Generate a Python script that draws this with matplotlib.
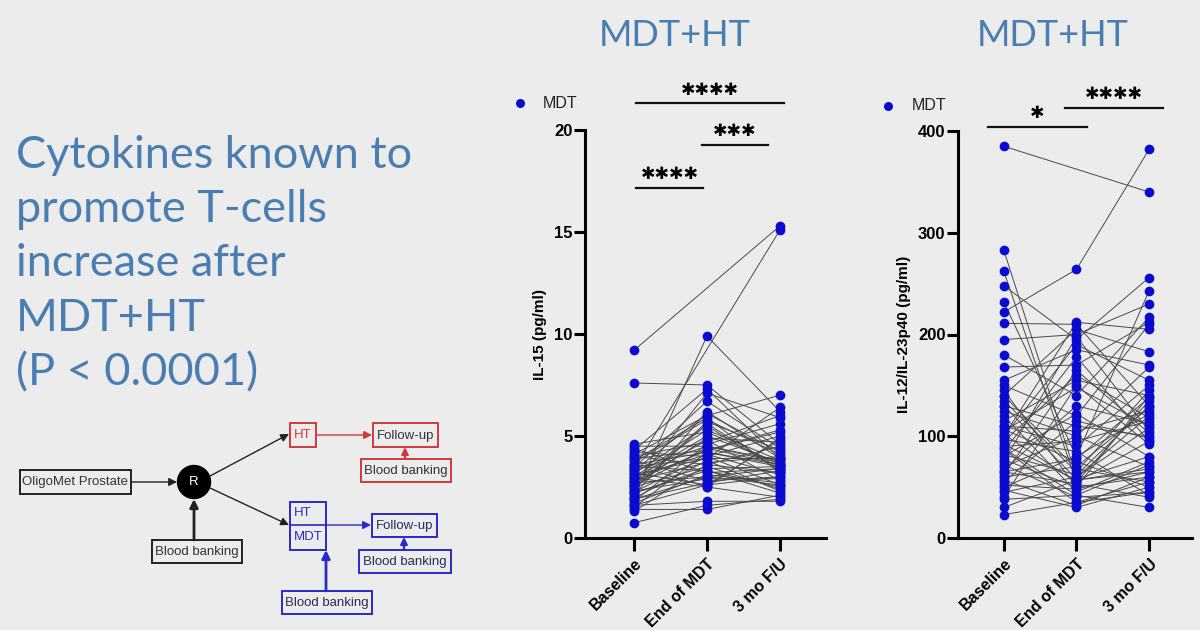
import numpy as np
import matplotlib
matplotlib.use("Agg")
import matplotlib.pyplot as plt
from matplotlib.patches import Rectangle, Circle, FancyArrowPatch

# ---- data -------------------------------------------------------------
timepoints = ["Baseline", "End of MDT", "3 mo F/U"]
nan = np.nan

il15_base = [9.2, 7.6, 0.75, 3.4, 2.0, 4.6, 4.4, 4.3, 4.2, 4.1, 4.0, 3.9, 3.8, 3.7,
             3.6, 3.5, 3.45, 3.3, 3.2, 3.15, 3.1, 3.0, 2.95, 2.9, 2.8, 2.75, 2.7, 2.6,
             2.55, 2.5, 2.4, 2.3, 2.25, 2.2, 2.1, 1.95, 1.9, 1.8, 1.7, 1.6, 1.5, 1.4,
             1.3, 3.0, 2.6, 3.8, 4.0, 2.2, 1.6, 3.3, 2.8, 3.5, 2.4, 1.9, 4.5, 3.6]
il15_end = [nan, 7.5, 1.6, nan, 9.9, 5.2, 3.2, 7.3, 4.0, 6.0, 3.6, 4.3, 2.8, 5.8,
            4.2, 3.3, 6.7, 4.5, 2.6, 5.5, 3.9, 4.1, 2.5, 5.0, 3.7, 4.8, 3.0, 7.1,
            4.4, 3.5, 5.7, 2.9, 4.0, 3.4, 6.2, 3.8, 2.7, 4.6, 3.1, 1.8, 4.2, 1.4,
            3.6, 5.3, 4.9, 5.9, 4.7, 3.3, 2.6, 6.1, 4.3, 3.9, 5.6, 3.0, 4.5, 2.5]
il15_fu = [15.3, 4.6, 1.9, 15.1, 6.2, 3.6, 3.4, 3.9, 2.6, 7.0, 3.2, 5.3, 3.0, 4.1,
           3.5, 2.2, 4.4, 3.8, 4.8, 3.3, 6.4, 3.1, 2.0, 3.7, 4.0, 2.8, 3.4, 5.9,
           3.6, 2.4, 4.3, 2.9, 5.0, 3.5, 3.9, 2.3, 3.3, 5.6, 2.7, 1.8, 3.6, 2.1,
           4.5, 3.8, 4.7, 3.2, 6.0, 2.5, 3.0, 4.2, 5.2, 3.9, 3.4, 2.6, 3.7, 4.9]

il12_base = [385, 222, 283, 262, 248, 232, 211, 195, 180, 168, 155, 150, 145, 140,
             135, 130, 125, 120, 115, 110, 107, 105, 102, 100, 97, 95, 92, 90, 87,
             85, 82, 80, 77, 75, 72, 70, 67, 65, 62, 60, 57, 55, 52, 50, 47, 45,
             40, 38, 30, 23, 110, 100, 140, 65, 130, 88]
il12_end = [nan, 264, 60, 55, 195, 80, 210, 200, 140, 170, 185, 120, 50, 205,
            65, 110, 100, 45, 155, 105, 75, 148, 55, 190, 85, 160, 57, 95, 35,
            178, 62, 122, 50, 198, 40, 100, 130, 53, 165, 70, 32, 115, 48, 80, 30,
            60, 150, 42, 57, 35, 90, 212, 68, 78, 58, 42]
il12_fu = [340, 382, 120, 95, 256, 243, 130, 230, 217, 212, 170, 210, 60, 183,
           145, 100, 168, 75, 140, 125, 50, 110, 135, 155, 42, 118, 65, 115, 55,
           95, 130, 80, 140, 105, 45, 70, 112, 40, 103, 128, 60, 98, 65, 122, 50,
           108, 92, 30, 68, 45, 150, 205, 55, 138, 80, 72]

# ---- style ------------------------------------------------------------
BG = "#ececec"
SLIDE_BLUE = "#4a7eb2"
DOT = "#0b0bd0"
RED = "#d03a3a"
BLUE = "#2a2ac8"
ARIAL = "Liberation Sans"

fig = plt.figure(figsize=(12, 6.3), dpi=100, facecolor=BG)

# pixel-space overlay for the slide text and study diagram
bg = fig.add_axes([0, 0, 1, 1])
bg.set_xlim(0, 1200)
bg.set_ylim(630, 0)
bg.axis("off")

lines = ["Cytokines known to", "promote T-cells", "increase after", "MDT+HT", "(P < 0.0001)"]
for i, line in enumerate(lines):
    bg.text(16, 155 + i * 54.5, line, fontsize=32.5, family="Lato", color=SLIDE_BLUE,
            va="center", ha="left")

bg.text(675, 36, "MDT+HT", fontsize=26, family="Lato", color=SLIDE_BLUE, ha="center", va="center")
bg.text(1053, 36, "MDT+HT", fontsize=26, family="Lato", color=SLIDE_BLUE, ha="center", va="center")


def box(x0, y0, x1, y1, edge, label=None, tcolor="#333333"):
    bg.add_patch(Rectangle((x0, y0), x1 - x0, y1 - y0, fill=False, edgecolor=edge, linewidth=1.4))
    if label:
        bg.text((x0 + x1) / 2, (y0 + y1) / 2 + 0.5, label, fontsize=9.5, family=ARIAL,
                color=tcolor, ha="center", va="center")


def arrow(p0, p1, color, lw=1.0, ms=12):
    bg.add_patch(FancyArrowPatch(p0, p1, arrowstyle="-|>", color=color, linewidth=lw,
                                 mutation_scale=ms, shrinkA=0, shrinkB=0))


box(20, 470, 131, 494, "#222222", "OligoMet Prostate")
bg.add_patch(Circle((194, 482), 16.5, color="black"))
bg.text(194, 482, "R", color="white", fontsize=9.5, family=ARIAL, ha="center", va="center")
arrow((131, 482), (177, 482), "#222222")
box(152, 540, 242, 563, "#222222", "Blood banking")
arrow((194, 540), (194, 499), "#222222", lw=2.0)
arrow((210, 476), (289, 434), "#222222")
arrow((210, 488), (289, 525), "#222222")

box(290, 423, 316, 447, RED, "HT", RED)
box(373, 423, 438, 447, RED, "Follow-up")
box(361, 459, 451, 482, RED, "Blood banking")
arrow((316, 435), (372, 435), RED)
arrow((405, 459), (405, 447), RED, lw=1.6, ms=10)

box(290, 502, 326, 550, BLUE)
bg.plot([290, 326], [525, 525], color=BLUE, linewidth=1.2)
bg.text(294, 513.5, "HT", fontsize=9.5, family=ARIAL, color=BLUE, ha="left", va="center")
bg.text(294, 537.5, "MDT", fontsize=9.5, family=ARIAL, color=BLUE, ha="left", va="center")
box(372, 514, 437, 537, BLUE, "Follow-up", "#2a2a5a")
box(359, 550, 451, 573, BLUE, "Blood banking", "#2a2a5a")
box(282, 591, 372, 614, BLUE, "Blood banking", "#2a2a5a")
arrow((326, 525), (371, 525), BLUE)
arrow((404, 550), (404, 537), BLUE, lw=1.6, ms=10)
arrow((326, 591), (326, 550), BLUE, lw=2.0)


# ---- paired dot plots -------------------------------------------------
def paired_plot(rect, base, end, fu, ymax, ystep, ylabel, xlim):
    ax = fig.add_axes(rect)
    ax.set_facecolor("none")
    data = np.array([base, end, fu], dtype=float).T
    for row in data:
        ok = ~np.isnan(row)
        ax.plot(np.arange(3)[ok], row[ok], color="#4a4a4a", linewidth=0.7, zorder=2)
    for j in range(3):
        col = data[:, j]
        col = col[~np.isnan(col)]
        ax.plot(np.full(len(col), j), col, "o", color=DOT, markersize=7,
                markeredgewidth=0, zorder=3, clip_on=False)
    ax.set_xlim(*xlim)
    ax.set_ylim(0, ymax)
    ax.set_yticks(np.arange(0, ymax + 1, ystep))
    ax.set_xticks(range(3))
    ax.set_xticklabels(timepoints, rotation=45, ha="right", rotation_mode="anchor",
                       fontsize=11.5, fontweight="bold", family=ARIAL)
    for lab in ax.get_yticklabels():
        lab.set_fontsize(12)
        lab.set_fontweight("bold")
        lab.set_family(ARIAL)
    ax.spines["top"].set_visible(False)
    ax.spines["right"].set_visible(False)
    for s in ("left", "bottom"):
        ax.spines[s].set_linewidth(2.2)
    ax.tick_params(axis="y", length=8, width=2.2, pad=1)
    ax.tick_params(axis="x", length=9, width=2.2, pad=4)
    ax.set_ylabel(ylabel, fontsize=11, fontweight="bold", family=ARIAL, labelpad=5)
    return ax


def sig(ax, x0, x1, y, ytxt, stars):
    ax.plot([x0, x1], [y, y], color="#111111", linewidth=1.6, clip_on=False)
    ax.text((x0 + x1) / 2, ytxt, "\u2731" * len(stars), fontsize=12.5, family="DejaVu Sans",
            ha="center", va="center")


def legend(ax, xd, yd, xt):
    ax.plot([xd], [yd], "o", color=DOT, markersize=6.5, markeredgewidth=0, clip_on=False)
    ax.text(xt, yd, "MDT", fontsize=11.5, family=ARIAL, color="#222222", va="center")


# chart 1: px x 585..826, ticks at 634/707/780; y 0 at 538, 20 at 130
ax1 = paired_plot([585 / 1200, 92 / 630, 241 / 1200, 408 / 630],
                  il15_base, il15_end, il15_fu, 20, 5, "IL-15 (pg/ml)", (-0.67, 2.63))
sig(ax1, 0.03, 2.05, 21.32, 21.98, "****")
sig(ax1, 0.93, 1.84, 19.26, 19.95, "***")
sig(ax1, 0.03, 0.95, 17.16, 17.83, "****")
legend(ax1, -1.56, 21.32, -1.25)

# chart 2: px x 958..1192, ticks at 1004/1077/1149; y 0 at 538, 400 at 131
ax2 = paired_plot([958 / 1200, 92 / 630, 234 / 1200, 407 / 630],
                  il12_base, il12_end, il12_fu, 400, 100, "IL-12/IL-23p40 (pg/ml)", (-0.63, 2.59))
sig(ax2, -0.22, 1.15, 404, 418, "*")
sig(ax2, 0.84, 2.19, 422.6, 436, "****")
legend(ax2, -1.59, 425, -1.26)

fig.savefig("out.png", dpi=100, facecolor=BG)
